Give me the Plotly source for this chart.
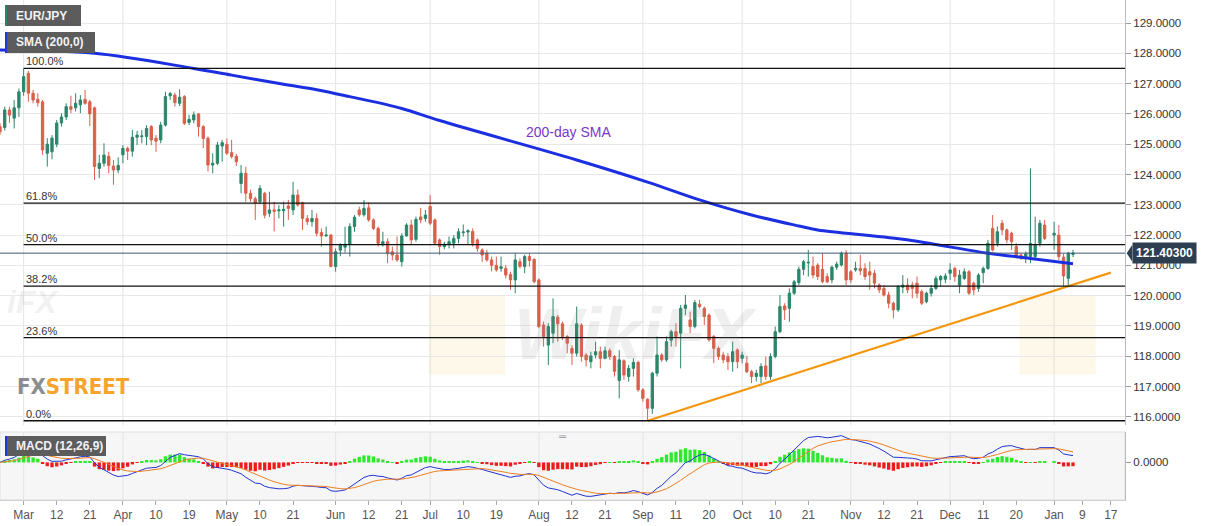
import pandas as pd
import plotly.graph_objects as go
from plotly.subplots import make_subplots

# daily EUR/JPY candles (weekdays, the feed has no Dec 31 candle)
dates = pd.bdate_range("2019-02-22", "2020-01-07")
dates = dates[dates != pd.Timestamp("2019-12-31")]

opens = [
    125.58, 125.55, 126.13, 125.86, 126.20,  # Feb
    126.73, 127.34, 126.68, 126.48, 126.40, 124.70, 124.75, 125.00, 125.70, 125.90, 126.24,
    126.20, 126.30, 126.48, 126.40, 126.20, 124.20, 124.37, 124.60, 124.28, 124.15,  # Mar
    124.65, 124.86, 124.77, 125.23, 125.25, 125.25, 125.58, 125.20, 125.14, 125.63, 126.60,
    126.62, 126.35, 126.57, 125.72, 125.80, 126.00, 125.58, 125.20, 124.31, 124.37, 124.94,  # Apr
    125.00, 124.72, 124.60, 123.70, 124.04, 123.38, 123.20, 123.10, 123.38, 122.72, 122.83,
    122.80, 122.80, 122.96, 122.83, 123.32, 123.07, 122.55, 122.44, 122.55, 122.08, 121.97, 122.00,  # May
    120.96, 121.50, 121.60, 121.70, 122.28, 122.83, 122.67, 122.90, 122.50, 122.22, 121.71,
    121.78, 121.45, 121.34, 121.12, 121.97, 122.33, 121.86, 122.60, 122.55,  # Jun
    122.94, 122.50, 121.84, 121.62, 121.70, 121.73, 121.89, 122.08, 122.10, 122.12, 121.84,
    121.51, 121.40, 121.18, 121.00, 120.90, 120.90, 120.70, 120.52, 121.12, 120.96, 121.29, 121.20,  # Jul
    120.52, 119.03, 118.37, 118.76, 119.29, 119.07, 118.65, 118.26, 118.10, 119.03, 118.04,
    117.82, 118.04, 118.15, 117.93, 118.18, 117.99, 117.20, 117.85, 117.33, 117.60, 117.80,  # Aug
    116.89, 116.58, 116.28, 117.44, 118.04, 117.88, 118.53, 118.81, 118.76, 119.58, 119.20,
    118.98, 119.72, 119.58, 119.36, 118.65, 118.26, 118.04, 117.99, 117.82, 118.21,  # Sep
    117.93, 117.77, 117.49, 117.33, 117.33, 117.68, 117.33, 117.99, 118.81, 119.66, 119.58,
    120.08, 120.43, 120.87, 121.08, 120.96, 121.01, 120.87, 120.63, 120.52, 120.94, 121.01, 121.40,  # Oct
    120.79, 120.85, 120.90, 120.90, 120.79, 120.74, 120.35, 120.24, 120.02, 119.75, 119.53,
    120.28, 120.35, 120.35, 120.41, 120.13, 119.80, 120.08, 120.24, 120.52, 120.54,  # Nov
    120.74, 120.90, 120.35, 120.57, 120.79, 120.41, 120.24, 120.76, 120.90, 122.22, 121.73,
    122.39, 122.17, 122.06, 121.62, 121.34, 121.29, 121.29, 121.29, 121.73, 122.33,  # Dec
    122.00, 122.00, 121.27, 120.57, 121.36,  # Jan
]
highs = [
    125.70, 126.24, 126.24, 126.46, 126.84,
    127.50, 127.42, 126.79, 126.68, 126.46, 125.20, 125.30, 125.80, 126.02, 126.35, 126.60,
    126.68, 126.62, 126.79, 126.46, 126.24, 124.65, 125.03, 124.75, 124.48, 124.57,
    124.97, 124.92, 125.47, 125.44, 125.47, 125.63, 125.63, 125.30, 125.74, 126.73, 126.73,
    126.70, 126.81, 126.62, 125.97, 126.08, 126.02, 125.63, 125.25, 124.70, 125.08, 125.14,
    125.19, 125.14, 124.68, 124.31, 124.26, 123.50, 123.27, 123.65, 123.43, 123.43, 123.10,
    122.99, 123.10, 123.16, 123.76, 123.50, 123.10, 122.66, 122.83, 122.72, 122.22, 122.28, 122.04,
    121.56, 121.73, 122.28, 122.39, 122.66, 122.94, 123.16, 123.07, 122.55, 122.28, 122.11,
    121.89, 121.62, 121.95, 122.06, 122.39, 122.50, 122.61, 122.90, 122.83,
    123.32, 122.55, 121.89, 121.78, 121.95, 122.00, 122.22, 122.35, 122.19, 122.22, 121.89,
    121.56, 121.51, 121.29, 121.29, 121.29, 121.01, 120.79, 121.40, 121.23, 121.35, 121.40, 121.23,
    120.57, 119.14, 119.09, 119.91, 119.36, 119.14, 118.70, 118.37, 119.64, 119.09, 118.10,
    118.15, 118.48, 118.32, 118.32, 118.26, 118.04, 118.20, 117.90, 117.71, 117.93, 117.85,
    116.94, 116.61, 117.49, 118.65, 118.10, 118.65, 118.87, 119.09, 119.69, 120.02, 119.47,
    119.86, 119.86, 119.64, 119.42, 118.70, 118.32, 118.15, 118.10, 118.48, 118.26,
    118.15, 118.01, 117.55, 117.55, 117.77, 117.99, 118.10, 118.98, 120.02, 119.75, 120.24,
    120.52, 120.96, 121.18, 121.51, 121.29, 121.07, 121.40, 120.74, 120.99, 121.12, 121.46, 121.51,
    120.85, 121.12, 121.35, 121.07, 121.12, 120.85, 120.41, 120.35, 120.13, 119.80, 120.35,
    120.68, 120.57, 120.46, 120.63, 120.20, 120.13, 120.35, 120.65, 120.68, 120.74,
    121.07, 120.96, 120.85, 120.90, 120.85, 120.46, 120.74, 120.96, 121.84, 122.66, 122.28,
    122.50, 122.22, 122.11, 121.73, 121.40, 121.46, 124.20, 122.61, 122.50, 122.50,
    122.44, 122.33, 121.38, 121.45, 121.51,
]
lows = [
    125.30, 125.45, 125.70, 125.52, 125.90,
    126.60, 126.40, 126.35, 126.24, 124.65, 124.26, 124.50, 124.90, 125.58, 125.80, 126.02,
    126.08, 126.02, 126.30, 125.60, 123.82, 123.88, 124.26, 124.04, 123.66, 124.04,
    124.37, 124.48, 124.59, 124.97, 125.03, 124.97, 124.97, 124.75, 125.03, 125.58, 126.46,
    126.24, 126.26, 125.63, 125.63, 125.69, 125.25, 124.87, 124.10, 124.04, 124.31, 124.42,
    124.64, 124.53, 124.28, 123.38, 123.10, 123.10, 122.50, 123.03, 122.55, 122.60, 122.12,
    122.55, 122.28, 122.50, 122.66, 122.94, 122.17, 122.33, 122.28, 121.95, 121.62, 121.95, 120.94,
    120.79, 121.30, 121.42, 121.29, 122.11, 122.61, 122.61, 122.44, 122.17, 121.62, 121.62,
    121.07, 121.16, 121.12, 120.96, 121.95, 121.67, 121.78, 122.39, 122.44,
    122.33, 121.67, 121.35, 121.53, 121.56, 121.56, 121.73, 121.95, 121.67, 121.62, 121.45,
    121.12, 121.12, 120.80, 120.79, 120.79, 120.57, 120.19, 120.08, 120.90, 120.74, 120.96, 120.41,
    118.92, 118.32, 117.71, 118.43, 118.48, 118.54, 118.10, 117.71, 117.99, 117.82, 117.66,
    117.60, 117.93, 117.60, 117.90, 117.88, 117.33, 116.61, 117.22, 117.16, 117.33, 116.83,
    116.50, 115.87, 116.10, 117.33, 117.82, 117.82, 118.32, 118.32, 117.60, 119.36, 118.76,
    118.92, 119.58, 119.03, 118.48, 117.77, 117.88, 117.77, 117.55, 117.49, 117.60,
    117.77, 117.44, 117.11, 117.16, 117.11, 117.22, 117.22, 117.93, 118.76, 119.20, 119.14,
    120.02, 120.35, 120.68, 120.63, 120.57, 120.52, 120.41, 120.41, 120.41, 120.85, 120.96, 120.35,
    120.41, 120.79, 120.68, 120.52, 120.19, 120.24, 120.08, 119.97, 119.58, 119.25, 119.47,
    120.08, 120.08, 119.91, 119.91, 119.69, 119.75, 119.97, 120.19, 120.30, 120.41,
    120.52, 120.46, 120.08, 120.52, 120.02, 120.02, 120.13, 120.41, 120.85, 121.46, 121.62,
    122.00, 121.73, 121.51, 121.23, 121.18, 121.07, 121.07, 121.18, 121.62, 121.84,
    121.51, 121.18, 120.30, 120.32, 121.27,
]
closes = [
    125.41, 126.13, 125.96, 126.20, 126.73,
    127.23, 126.68, 126.46, 126.37, 124.81, 125.00, 125.20, 125.70, 125.90, 126.24, 126.15,
    126.35, 126.46, 126.35, 126.00, 124.26, 124.37, 124.64, 124.30, 124.15, 124.30,
    124.86, 124.77, 125.23, 125.30, 125.27, 125.52, 125.14, 125.10, 125.63, 126.57, 126.67,
    126.37, 126.55, 125.69, 125.82, 125.97, 125.58, 125.19, 124.31, 124.37, 124.97, 125.05,
    124.70, 124.59, 124.42, 124.04, 123.38, 123.20, 123.05, 123.54, 122.66, 122.83, 122.78,
    122.83, 122.85, 122.88, 123.32, 122.99, 122.55, 122.44, 122.55, 122.06, 121.97, 122.00, 120.96,
    121.45, 121.67, 121.70, 122.28, 122.59, 122.67, 122.88, 122.50, 122.22, 121.73, 121.78,
    121.40, 121.34, 121.18, 121.97, 122.33, 121.84, 122.52, 122.50, 122.66,
    122.39, 121.73, 121.62, 121.70, 121.78, 121.89, 122.11, 122.10, 122.14, 121.73, 121.56,
    121.34, 121.18, 121.00, 120.85, 120.95, 120.68, 120.52, 121.18, 120.96, 121.29, 121.16, 120.46,
    118.98, 118.65, 118.98, 119.31, 119.07, 118.65, 118.43, 118.10, 119.07, 117.99, 117.88,
    118.01, 118.15, 117.93, 118.18, 117.99, 117.50, 117.88, 117.38, 117.60, 117.80, 116.89,
    116.61, 116.28, 117.44, 118.04, 117.88, 118.48, 118.81, 118.65, 119.58, 119.69, 118.98,
    119.77, 119.64, 119.31, 118.54, 118.26, 117.99, 117.88, 117.82, 118.15, 117.82,
    118.04, 117.49, 117.33, 117.44, 117.66, 117.33, 117.99, 118.81, 119.64, 119.53, 120.08,
    120.46, 120.87, 121.12, 121.10, 120.68, 120.63, 120.46, 120.46, 120.94, 121.04, 121.40, 120.52,
    120.52, 120.90, 120.82, 120.63, 120.68, 120.41, 120.19, 120.02, 119.75, 119.53, 120.30,
    120.35, 120.19, 120.24, 120.08, 119.75, 120.08, 120.24, 120.57, 120.63, 120.65,
    120.85, 120.63, 120.68, 120.79, 120.08, 120.19, 120.68, 120.90, 121.73, 121.51, 122.11,
    122.17, 121.84, 121.78, 121.29, 121.27, 121.38, 121.73, 121.67, 122.39, 121.89,
    122.06, 121.29, 120.65, 121.40, 121.403,
]
assert len(opens) == len(highs) == len(lows) == len(closes) == len(dates)

# 200-day SMA
sma_dates = ["2019-02-22", "2019-03-22", "2019-04-22", "2019-05-02", "2019-05-17", "2019-05-28",
             "2019-06-06", "2019-06-21", "2019-07-03", "2019-08-13", "2019-09-03", "2019-09-18",
             "2019-10-03", "2019-10-17", "2019-10-23", "2019-11-18", "2019-12-12", "2019-12-25",
             "2020-01-07"]
sma_values = [128.11, 128.00, 127.50, 127.28, 126.98, 126.80, 126.57, 126.18, 125.78, 124.48,
              123.75, 123.16, 122.66, 122.30, 122.17, 121.86, 121.40, 121.23, 121.05]

# support line drawn from the September low
trend_dates = ["2019-09-03", "2020-01-17"]
trend_values = [115.87, 120.76]

# Fibonacci retracement of the Mar-Sep fall
fib_start = "2019-03-01"
swing_high = 127.50
swing_low = 115.87
fib_ratios = [1.0, 0.618, 0.5, 0.382, 0.236, 0.0]
fib_labels = ["100.0%", "61.8%", "50.0%", "38.2%", "23.6%", "0.0%"]

last_price = 121.403

tick_dates = ["2019-03-01", "2019-03-12", "2019-03-21", "2019-04-01", "2019-04-10", "2019-04-19",
              "2019-05-01", "2019-05-10", "2019-05-21", "2019-06-03", "2019-06-12", "2019-06-21",
              "2019-07-01", "2019-07-10", "2019-07-19", "2019-08-01", "2019-08-12", "2019-08-21",
              "2019-09-02", "2019-09-11", "2019-09-20", "2019-10-01", "2019-10-10", "2019-10-21",
              "2019-11-01", "2019-11-12", "2019-11-21", "2019-12-02", "2019-12-11", "2019-12-20",
              "2020-01-01", "2020-01-09", "2020-01-17"]
tick_labels = ["Mar", "12", "21", "Apr", "10", "19", "May", "10", "21", "Jun", "12", "21",
               "Jul", "10", "19", "Aug", "12", "21", "Sep", "11", "20", "Oct", "10", "21",
               "Nov", "12", "21", "Dec", "11", "20", "Jan", "9", "17"]
month_starts = [d for d, t in zip(tick_dates, tick_labels) if not t.isdigit()]

x_range = ["2019-02-22", "2020-01-22"]

# MACD (12,26,9) from the closes
close_s = pd.Series(closes, index=dates)
macd = close_s.ewm(span=12, adjust=False).mean() - close_s.ewm(span=26, adjust=False).mean()
signal = macd.ewm(span=9, adjust=False).mean()
hist = macd - signal

FONT = "Liberation Sans, Arial, sans-serif"
GREEN = "#2a866a"
RED = "#d8604c"

fig = make_subplots(rows=2, cols=1, shared_xaxes=True, vertical_spacing=0.02)

fig.add_trace(go.Candlestick(
    x=dates, open=opens, high=highs, low=lows, close=closes,
    increasing=dict(line=dict(color=GREEN, width=1), fillcolor=GREEN),
    decreasing=dict(line=dict(color=RED, width=1), fillcolor=RED),
    whiskerwidth=0, hoverinfo="skip", showlegend=False), row=1, col=1)

fig.add_trace(go.Scatter(x=sma_dates, y=sma_values, mode="lines",
                         line=dict(color="#1b2fe0", width=3, shape="spline", smoothing=1.0),
                         hoverinfo="skip", showlegend=False), row=1, col=1)

fig.add_trace(go.Scatter(x=trend_dates, y=trend_values, mode="lines",
                         line=dict(color="#f5960f", width=2.2),
                         hoverinfo="skip", showlegend=False), row=1, col=1)

fig.add_trace(go.Bar(x=dates, y=hist,
                     marker=dict(color=["#2de82d" if v >= 0 else "#ee1b1b" for v in hist], line_width=0),
                     hoverinfo="skip", showlegend=False), row=2, col=1)
fig.add_trace(go.Scatter(x=dates, y=macd, mode="lines", line=dict(color="#2233d0", width=1),
                         hoverinfo="skip", showlegend=False), row=2, col=1)
fig.add_trace(go.Scatter(x=dates, y=signal, mode="lines", line=dict(color="#f07f22", width=1),
                         hoverinfo="skip", showlegend=False), row=2, col=1)

shapes = []
# grey background of the MACD pane
shapes.append(dict(type="rect", xref="x2 domain", yref="y2 domain", x0=0, x1=1, y0=0, y1=1,
                   fillcolor="#f6f6f6", line=dict(color="#dddddd", width=1), layer="below"))
# month grid lines in both panes
for d in month_starts:
    for yr in ["y domain", "y2 domain"]:
        shapes.append(dict(type="line", xref="x", yref=yr, x0=d, x1=d, y0=0, y1=1,
                           line=dict(color="#e4e4e4", width=1), layer="below"))
# fib levels
annotations = []
for r, lab in zip(fib_ratios, fib_labels):
    lvl = swing_low + r * (swing_high - swing_low)
    shapes.append(dict(type="line", xref="x", yref="y", x0=fib_start, x1=x_range[1], y0=lvl, y1=lvl,
                       line=dict(color="#111111", width=1.3)))
    annotations.append(dict(x=fib_start, y=lvl, xref="x", yref="y", text=lab, showarrow=False,
                            xanchor="left", yanchor="bottom", yshift=-1,
                            font=dict(family=FONT, size=11, color="#333333")))
# last price line
shapes.append(dict(type="line", xref="x", yref="y", x0=x_range[0], x1=x_range[1],
                   y0=last_price, y1=last_price, line=dict(color="#3b5674", width=1)))
# price tag pointer
shapes.append(dict(type="path", xref="paper", yref="y",
                   path=f"M 1.0015,{last_price} L 1.0065,{last_price + 0.28} L 1.0065,{last_price - 0.28} Z",
                   fillcolor="#2c3e50", line=dict(width=0)))
annotations.append(dict(x=1.0062, y=last_price, xref="paper", yref="y", xanchor="left",
                        text="<b>121.40300</b>", showarrow=False, bgcolor="#2c3e50", borderpad=3,
                        font=dict(family=FONT, size=12, color="white")))

# top-left legend boxes
def label_box(x0px, x1px, y0px, y1px, text, accent):
    H = 500.0
    W = 1125.0
    shapes.append(dict(type="rect", xref="paper", yref="paper", x0=x0px / W, x1=x1px / W,
                       y0=1 - y1px / H, y1=1 - y0px / H, fillcolor="#5c5c5c", line=dict(width=0)))
    shapes.append(dict(type="rect", xref="paper", yref="paper", x0=x0px / W, x1=(x0px + 2) / W,
                       y0=1 - y1px / H, y1=1 - y0px / H, fillcolor=accent, line=dict(width=0)))
    annotations.append(dict(x=(x0px + 9) / W, y=1 - (y0px + y1px) / 2 / H, xref="paper", yref="paper",
                            text=f"<b>{text}</b>", showarrow=False, xanchor="left", yanchor="middle",
                            font=dict(family=FONT, size=12, color="#f2f2f2")))

label_box(5, 81, 5, 26, "EUR/JPY", "#2f7f6a")
label_box(5, 95, 32, 53, "SMA (200,0)", "#2236d8")
label_box(5, 106, 436, 456, "MACD (12,26,9)", "#2236d8")

# text labels and watermarks
annotations.append(dict(x=0.5053, y=125.40, xref="paper", yref="y", text="200-day SMA", showarrow=False,
                        font=dict(family=FONT, size=14, color="#7e35c9")))
annotations.append(dict(x=0.013, y=117.0, xref="paper", yref="y", xanchor="left",
                        text="<b><span style='color:#8c8c8c'>FX</span><span style='color:#f4a52a'>STREET</span></b>",
                        showarrow=False, font=dict(family="DejaVu Sans Condensed, Liberation Sans Narrow, sans-serif", size=22)))
annotations.append(dict(x=0.565, y=118.75, xref="paper", yref="y", text="<b><i>WikiFX</i></b>", showarrow=False,
                        font=dict(family=FONT, size=72, color="rgba(150,150,150,0.15)")))
annotations.append(dict(x=0.004, y=119.78, xref="paper", yref="y", xanchor="left", text="<b><i>iFX</i></b>",
                        showarrow=False, font=dict(family=FONT, size=32, color="rgba(150,150,150,0.15)")))
for cx, cy in [(0.415, 118.7), (0.94, 118.7)]:
    shapes.append(dict(type="rect", xref="paper", yref="y", x0=cx - 0.034, x1=cx + 0.034,
                       y0=cy - 1.3, y1=cy + 1.3, fillcolor="rgba(245,200,90,0.12)",
                       line=dict(width=0), layer="below"))
annotations.append(dict(x=0.5, y=-0.045, xref="paper", yref="y domain", text="═", showarrow=False,
                        font=dict(size=10, color="#999999")))

fig.update_layout(
    width=1207, height=526,
    margin=dict(l=0, r=82, t=0, b=26),
    paper_bgcolor="white", plot_bgcolor="white",
    font=dict(family=FONT, size=12, color="#444444"),
    shapes=shapes, annotations=annotations,
    bargap=0.3, showlegend=False,
)
fig.update_xaxes(range=x_range, rangebreaks=[dict(bounds=["sat", "mon"])],
                 showgrid=False, zeroline=False, rangeslider_visible=False)
fig.update_xaxes(showticklabels=False, ticks="", row=1, col=1)
fig.update_xaxes(tickmode="array", tickvals=tick_dates, ticktext=tick_labels, ticks="outside",
                 ticklen=4, tickcolor="#aaaaaa", tickfont=dict(size=12, color="#555555"),
                 showline=True, linecolor="#d0d0d0", row=2, col=1)
fig.update_yaxes(domain=[0.15, 1.0], range=[115.73, 129.76], side="right", dtick=1, tickformat=".4f",
                 showgrid=True, gridcolor="#e8e8e8", zeroline=False, ticks="outside", ticklen=5,
                 tickcolor="#999999", showline=True, linecolor="#bbbbbb",
                 tickfont=dict(size=11.5, color="#333333"), row=1, col=1)
m_lo = float(min(macd.min(), signal.min()))
m_hi = float(max(macd.max(), signal.max()))
pad = 0.06 * (m_hi - m_lo)
fig.update_yaxes(domain=[0.0, 0.136], range=[m_lo - pad, m_hi + pad], side="right",
                 tickmode="array", tickvals=[0], ticktext=["0.0000"], showgrid=False, zeroline=False,
                 ticks="outside", ticklen=5, tickcolor="#999999", showline=True, linecolor="#bbbbbb",
                 tickfont=dict(size=11.5, color="#333333"), row=2, col=1)

fig.write_html("out.html", config={"displayModeBar": False},
               post_script="document.body.style.margin='0';document.body.style.overflow='hidden';")
